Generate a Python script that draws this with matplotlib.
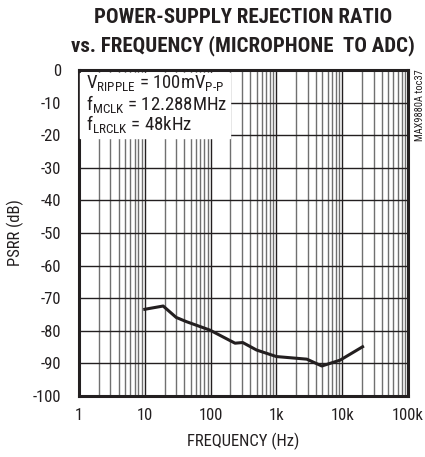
import matplotlib
matplotlib.use('Agg')
import matplotlib.pyplot as plt
from matplotlib.ticker import LogLocator, NullFormatter

# PSRR curve
freq = [10, 19, 30, 43, 98, 235, 308, 500, 1000, 2900, 4900, 9300, 20400]
psrr = [-73.4, -72.4, -75.9, -77.2, -79.8, -83.8, -83.6, -85.9, -87.9, -88.7, -90.8, -89.0, -84.9]

xticks = [1, 10, 100, 1e3, 1e4, 1e5]
xlabels = ['1', '10', '100', '1k', '10k', '100k']
yticks = list(range(0, -101, -10))

fnt = 'Roboto Condensed'
plt.rcParams['font.family'] = [fnt, 'DejaVu Sans']
plt.rcParams['mathtext.fontset'] = 'custom'
plt.rcParams['mathtext.rm'] = fnt
plt.rcParams['mathtext.it'] = fnt

fig = plt.figure(figsize=(4.25, 4.57), dpi=100)
ax = fig.add_axes([79/425, 61/457, 329/425, 326/457])

ax.plot(freq, psrr, color='#231f20', lw=2.2, zorder=5)

ax.set_xscale('log')
ax.set_xlim(1, 1e5)
ax.set_ylim(-100, 0)
ax.set_xticks(xticks)
ax.set_xticklabels(xlabels)
ax.xaxis.set_minor_locator(LogLocator(base=10, subs=range(2, 10)))
ax.xaxis.set_minor_formatter(NullFormatter())
ax.set_yticks(yticks)
ax.set_yticklabels([str(v) for v in yticks])
ax.tick_params(which='both', length=0, labelsize=12, colors='#231f20', pad=9)
ax.tick_params(axis='y', pad=13)

ax.grid(which='major', color='#231f20', lw=1.0)
ax.grid(which='minor', axis='x', color='#707070', lw=1.0)
for s in ax.spines.values():
    s.set_linewidth(2.2)
    s.set_color('#231f20')

ax.set_xlabel('FREQUENCY (Hz)', fontsize=12, color='#231f20', labelpad=7)
ax.set_ylabel('PSRR (dB)', fontsize=12, color='#231f20', labelpad=6)

fig.text(0.572, 0.962, 'POWER-SUPPLY REJECTION RATIO', ha='center', va='center',
         fontsize=15, fontweight='heavy', color='#231f20')
fig.text(0.572, 0.900, 'vs. FREQUENCY (MICROPHONE  TO ADC)', ha='center', va='center',
         fontsize=15, fontweight='heavy', color='#231f20')

# text box over the top-left grid
ax.fill_between([1.05, 195], -21, -1, color='white', zorder=3)
lines = [r'V$_{\mathrm{RIPPLE}}$ = 100mV$_{\mathrm{P\text{-}P}}$',
         r'f$_{\mathrm{MCLK}}$ = 12.288MHz',
         r'f$_{\mathrm{LRCLK}}$ = 48kHz']
for i, t in enumerate(lines):
    ax.text(1.3, -4.0 - 6.3 * i, t, fontsize=13.5, color='#231f20', va='center', zorder=4)

fig.text(0.988, 0.848, 'MAX9880A toc37', rotation=90, ha='center', va='top',
         fontsize=7.5, color='#231f20')

fig.savefig('out.png', dpi=100)
